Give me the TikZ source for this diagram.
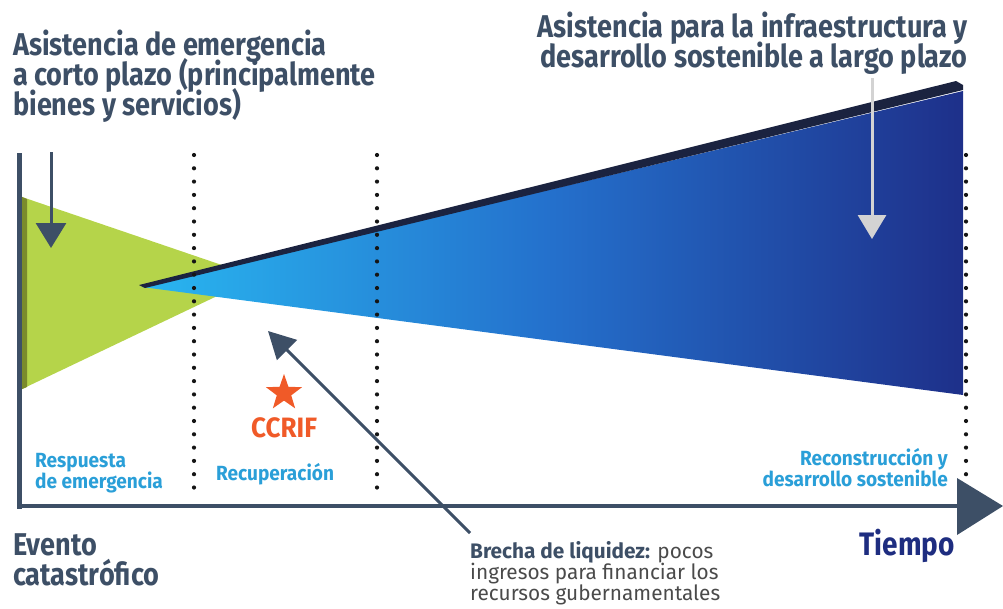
\documentclass[tikz,border=0pt]{standalone}
\usepackage{fontspec}
\setmainfont{Fira Sans}[FakeStretch=0.86]
\newfontfamily\phasefont{Fira Sans}[FakeStretch=0.93]
\newfontfamily\notefont{Fira Sans}[FakeStretch=0.99]
\usetikzlibrary{arrows.meta,shapes.geometric}
\definecolor{slate}{HTML}{3D4F66}
\definecolor{lime}{HTML}{B5D44A}
\definecolor{olive}{HTML}{7A8A2C}
\definecolor{cyanL}{HTML}{29B6F0}
\definecolor{blueM}{HTML}{2470CC}
\definecolor{navyR}{HTML}{1E308A}
\definecolor{band}{HTML}{1B2340}
\definecolor{orng}{HTML}{F05A28}
\definecolor{lblue}{HTML}{2A9FD8}
\definecolor{tnavy}{HTML}{1E2D80}
\definecolor{lgray}{HTML}{D3D3D3}
\definecolor{txtgray}{HTML}{4A4A4A}
\definecolor{dotc}{HTML}{151515}
\tikzset{
  dotline/.style={line width=4.2pt, line cap=round, dash pattern=on 0pt off 13.3pt, dotc},
  axisline/.style={slate, line width=5pt},
  bigtitle/.style={anchor=base west, inner sep=0pt, text=slate, font=\fontsize{31.5}{31.5}\selectfont\bfseries},
  bigtitleR/.style={bigtitle, anchor=base east},
  phase/.style={anchor=base west, inner sep=0pt, text=lblue, font=\phasefont\fontsize{20.5}{20.5}\selectfont\bfseries},
  phaseR/.style={phase, anchor=base east},
  note/.style={anchor=base west, inner sep=0pt, text=txtgray, font=\notefont\fontsize{21}{21}\selectfont},
  pointer/.style={slate, line width=3pt, -{Triangle[width=30pt,length=25pt]}},
}
\begin{document}
\begin{tikzpicture}[x=1pt,y=-1pt]
\useasboundingbox (0,0) rectangle (1003,608);
% green wedge
\fill[lime] (22,197) -- (257,277) -- (22,389) -- cycle;
\fill[olive] (20,196) -- (27,199) -- (27,387) -- (20,390) -- cycle;
% blue wedge
\shade[left color=cyanL, right color=navyR, middle color=blueM] (142,287) -- (963,91) -- (963,395) -- cycle;
\fill[band] (139,285) -- (956,81) -- (963,85) -- (963,90) -- (145,288) -- cycle;
% dotted lines
\coordinate (d1t) at (194,155); \coordinate (d1b) at (194,500);
\coordinate (d2t) at (377,155); \coordinate (d2b) at (377,500);
\coordinate (d3t) at (966,155); \coordinate (d3b) at (966,500);
\draw[dotline] (d1t) -- (d1b);
\draw[dotline] (d2t) -- (d2b);
\draw[dotline] (d3t) -- (d3b);
% axes
\coordinate (ytop) at (19,153);
\coordinate (orig) at (19,508.5);
\coordinate (xend) at (960,506);
\draw[axisline] (ytop) -- (orig);
\draw[slate, line width=4pt] (17,506) -- (xend);
\fill[slate] (957,478) -- (1003,506) -- (957,535) -- cycle;
% arrows
\coordinate (a1s) at (51,152); \coordinate (a1e) at (51,248);
\draw[pointer] (a1s) -- (a1e);
\coordinate (a2s) at (872,78); \coordinate (a2e) at (872,239);
\draw[lgray, line width=3pt, -{Triangle[width=28pt,length=24pt]}] (a2s) -- (a2e);
\coordinate (a3s) at (470,533); \coordinate (a3e) at (268,331);
\draw[pointer, -{Triangle[width=28pt,length=27pt]}] (a3s) -- (a3e);
% star and CCRIF
\node[star, star points=5, star point ratio=2.5, minimum size=38pt, inner sep=0pt, fill=orng] (star) at (284,393) {};
\node[anchor=base, inner sep=0pt, text=orng, font=\phasefont\fontsize{28}{28}\selectfont\bfseries] (ccrif) at (284,437) {CCRIF};
% titles
\node[bigtitle] (l1) at (13,55) {Asistencia de emergencia};
\node[bigtitle] (l2) at (13,85) {a corto plazo (principalmente};
\node[bigtitle] (l3) at (13,115) {bienes y servicios)};
\node[bigtitleR] (r1) at (968,37) {Asistencia para la infraestructura y};
\node[bigtitleR] (r2) at (968,67) {desarrollo sostenible a largo plazo};
\node[bigtitle] (e1) at (13,555) {Evento};
\node[bigtitle] (e2) at (13,585) {catastrófico};
\node[bigtitleR, text=tnavy, font=\fontsize{32.5}{32.5}\selectfont\bfseries] (tiempo) at (955,555) {Tiempo};
% phases
\node[phase] (p1a) at (35,467) {Respuesta};
\node[phase] (p1b) at (35,488) {de emergencia};
\node[phase] (p2) at (216,480) {Recuperación};
\node[phaseR] (p3a) at (948,465) {Reconstrucción y};
\node[phaseR] (p3b) at (948,486) {desarrollo sostenible};
% note
\node[note] (n1) at (470,558) {\textcolor{slate}{\bfseries Brecha de liquidez:} pocos};
\node[note] (n2) at (470,579) {ingresos para financiar los};
\node[note] (n3) at (470,600) {recursos gubernamentales};
\end{tikzpicture}
\end{document}
